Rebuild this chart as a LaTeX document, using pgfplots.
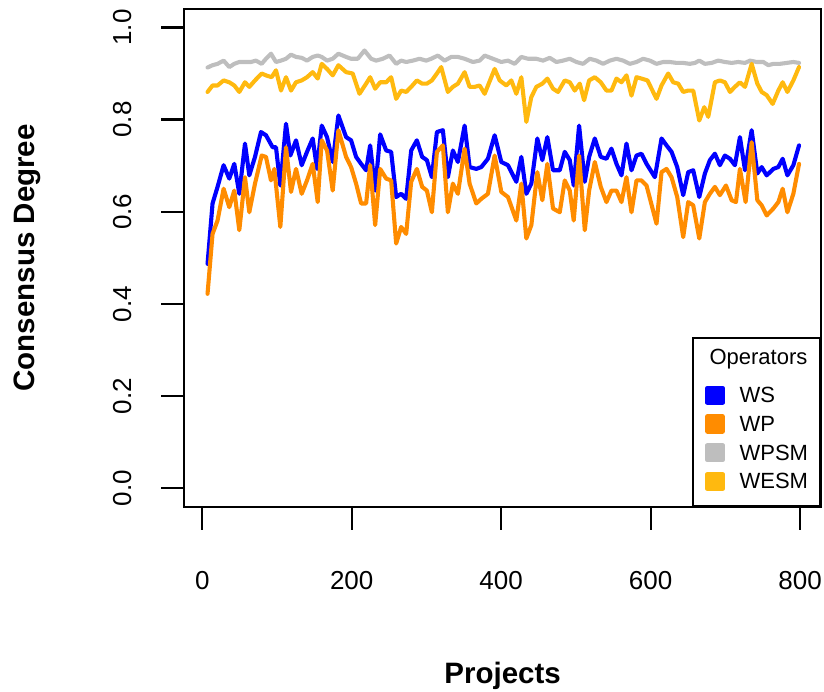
\documentclass[border=0pt]{standalone}
\usepackage{fontspec}
\setmainfont{Liberation Sans}
\usepackage{pgfplots}
\pgfplotsset{compat=1.18}
\definecolor{wsblue}{RGB}{0,0,255}
\definecolor{wporange}{RGB}{255,140,0}
\definecolor{wpsmgray}{RGB}{190,190,190}
\definecolor{wesmgold}{RGB}{255,185,15}
% legend row strut: height 16bp, depth 11.7bp
\newcommand{\lrow}[1]{\rule[-11.7bp]{0pt}{27.7bp}#1}

\pgfplotstableread{
x y
7.1 0.487
13.8 0.618
20.5 0.654
28.6 0.701
36.2 0.672
42.9 0.704
49.6 0.639
57.2 0.748
63.0 0.679
70.6 0.719
78.6 0.773
85.3 0.766
94.2 0.740
98.7 0.740
104.5 0.657
112.1 0.791
117.9 0.722
125.5 0.755
133.1 0.701
140.2 0.730
147.8 0.759
153.6 0.693
159.9 0.787
167.0 0.762
174.6 0.708
182.2 0.809
192.5 0.762
199.2 0.755
205.9 0.719
212.6 0.704
219.3 0.690
224.7 0.744
231.4 0.646
238.1 0.768
246.1 0.733
252.8 0.730
259.5 0.632
266.2 0.639
272.9 0.628
279.6 0.733
287.2 0.755
294.3 0.719
300.6 0.712
307.3 0.675
314.0 0.773
322.0 0.777
328.7 0.675
335.4 0.733
342.1 0.708
351.1 0.787
357.8 0.697
366.7 0.693
373.4 0.697
382.3 0.715
391.3 0.766
400.2 0.708
409.1 0.701
420.3 0.665
427.0 0.719
433.7 0.639
440.4 0.661
448.4 0.759
455.1 0.712
461.8 0.762
469.4 0.690
478.4 0.690
485.1 0.730
491.8 0.712
497.1 0.657
504.3 0.787
511.9 0.665
517.7 0.719
525.3 0.759
533.3 0.719
540.9 0.715
547.6 0.737
554.3 0.704
561.0 0.679
567.7 0.748
574.4 0.690
581.1 0.722
587.8 0.726
594.5 0.704
605.7 0.675
614.6 0.759
621.3 0.744
628.0 0.730
635.6 0.697
643.6 0.636
650.3 0.686
657.0 0.690
665.1 0.632
672.6 0.683
679.3 0.712
686.0 0.726
692.7 0.701
699.4 0.722
706.2 0.715
712.8 0.701
719.5 0.762
726.3 0.690
735.2 0.777
742.8 0.683
748.6 0.697
755.3 0.679
764.2 0.693
770.9 0.697
776.7 0.715
783.0 0.679
791.0 0.701
798.6 0.744
}\ws

\pgfplotstableread{
x y
7.1 0.422
13.8 0.552
20.5 0.581
28.6 0.650
36.2 0.610
42.9 0.646
49.6 0.560
57.2 0.675
63.0 0.599
70.6 0.661
79.5 0.722
85.3 0.719
92.0 0.668
96.5 0.693
104.5 0.567
112.1 0.740
118.8 0.643
125.5 0.693
133.1 0.639
140.2 0.668
147.8 0.704
154.5 0.621
159.9 0.755
167.0 0.733
174.6 0.646
182.2 0.777
192.5 0.719
199.2 0.697
205.9 0.661
212.6 0.618
219.3 0.618
224.7 0.701
231.4 0.571
238.1 0.693
246.1 0.672
252.8 0.668
259.5 0.531
266.2 0.567
272.9 0.552
279.6 0.665
287.2 0.693
294.3 0.654
300.6 0.646
307.3 0.599
314.0 0.730
322.0 0.744
328.7 0.599
335.4 0.661
342.1 0.639
351.1 0.737
357.8 0.661
366.7 0.618
373.4 0.628
382.3 0.639
391.3 0.722
400.2 0.643
409.1 0.632
420.3 0.581
427.0 0.661
433.7 0.542
440.4 0.571
448.4 0.686
455.1 0.625
461.8 0.704
469.4 0.607
478.4 0.599
485.1 0.668
491.8 0.646
497.1 0.581
504.3 0.722
511.9 0.560
517.7 0.646
525.3 0.708
533.3 0.654
540.9 0.621
547.6 0.646
554.3 0.646
561.0 0.621
567.7 0.675
574.4 0.599
581.1 0.668
587.8 0.668
594.5 0.657
607.9 0.574
614.6 0.686
621.3 0.693
628.0 0.675
635.6 0.632
643.6 0.545
650.3 0.621
657.0 0.614
665.1 0.542
672.6 0.621
679.3 0.639
686.0 0.654
692.7 0.636
700.8 0.657
708.4 0.625
714.2 0.621
719.5 0.693
727.1 0.621
735.2 0.751
742.8 0.625
748.6 0.614
755.3 0.592
764.2 0.607
770.9 0.621
776.7 0.650
783.0 0.599
791.0 0.639
798.6 0.704
}\wp

\pgfplotstableread{
x y
7.1 0.913
13.8 0.918
20.5 0.921
28.6 0.928
36.2 0.914
42.9 0.921
49.6 0.925
57.2 0.925
65.2 0.925
71.9 0.928
79.5 0.921
85.3 0.932
92.0 0.943
98.7 0.925
105.4 0.928
112.1 0.932
118.8 0.941
125.5 0.936
133.1 0.934
140.2 0.928
147.8 0.936
154.5 0.939
159.9 0.936
167.0 0.928
174.6 0.932
182.2 0.943
192.5 0.936
199.2 0.932
208.1 0.932
217.1 0.950
226.0 0.932
232.7 0.928
241.6 0.932
250.6 0.939
259.5 0.921
266.2 0.928
272.9 0.925
281.8 0.928
290.8 0.932
299.7 0.928
306.4 0.932
315.3 0.939
324.3 0.928
333.2 0.936
342.1 0.936
351.1 0.932
362.2 0.925
371.2 0.928
377.9 0.939
389.0 0.932
400.2 0.925
409.1 0.928
418.1 0.921
427.0 0.936
435.9 0.932
447.1 0.932
456.0 0.928
465.0 0.934
473.9 0.925
482.8 0.928
491.8 0.932
500.7 0.925
509.6 0.921
518.6 0.932
527.5 0.928
536.4 0.921
545.4 0.928
554.3 0.932
563.2 0.928
572.2 0.921
581.1 0.925
590.0 0.932
599.0 0.928
607.9 0.921
616.8 0.925
625.7 0.925
634.7 0.923
643.6 0.923
652.5 0.921
659.3 0.923
665.1 0.928
672.6 0.921
681.6 0.923
690.5 0.928
699.4 0.925
708.4 0.923
717.3 0.925
726.3 0.923
733.0 0.928
741.9 0.925
750.8 0.925
757.5 0.918
764.2 0.921
773.1 0.921
782.1 0.923
791.0 0.925
798.6 0.923
}\wpsm

\pgfplotstableread{
x y
7.1 0.860
13.8 0.874
20.5 0.874
28.6 0.885
36.2 0.881
42.9 0.874
49.6 0.860
57.2 0.881
63.0 0.871
70.6 0.885
79.5 0.900
85.3 0.896
92.9 0.892
98.7 0.907
105.4 0.863
112.1 0.892
118.8 0.863
125.5 0.881
133.1 0.885
140.2 0.892
147.8 0.903
154.5 0.889
159.9 0.921
167.0 0.910
174.6 0.896
182.2 0.918
192.5 0.903
201.4 0.900
210.4 0.856
219.3 0.878
224.7 0.892
231.4 0.867
238.1 0.881
246.1 0.881
252.8 0.892
259.5 0.845
266.2 0.863
272.9 0.860
279.6 0.871
287.2 0.885
294.3 0.878
300.6 0.878
307.3 0.885
314.0 0.900
319.8 0.914
328.7 0.860
335.4 0.871
342.1 0.878
351.1 0.903
357.8 0.871
364.5 0.871
371.2 0.874
377.9 0.856
391.3 0.910
398.0 0.885
406.9 0.874
413.6 0.885
420.3 0.856
427.0 0.892
433.7 0.795
440.4 0.849
447.1 0.871
455.1 0.878
461.8 0.889
469.4 0.867
476.1 0.860
485.1 0.885
491.8 0.881
498.5 0.863
505.2 0.878
511.0 0.842
517.7 0.885
525.3 0.892
533.3 0.881
540.9 0.863
547.6 0.863
554.3 0.889
561.0 0.881
567.7 0.896
574.4 0.852
581.1 0.892
587.8 0.889
595.8 0.885
607.9 0.845
614.6 0.874
623.5 0.900
630.2 0.881
636.9 0.878
643.6 0.860
650.3 0.863
657.0 0.863
665.1 0.798
671.8 0.827
677.1 0.806
686.0 0.881
692.7 0.885
699.4 0.881
706.2 0.860
712.8 0.871
719.5 0.881
726.3 0.871
735.2 0.921
742.8 0.878
748.6 0.860
755.3 0.853
763.3 0.834
770.9 0.863
776.7 0.881
783.0 0.860
791.0 0.885
798.6 0.914
}\wesm

\begin{document}
\begin{tikzpicture}
\path[use as bounding box] (0,0) rectangle (824bp,692bp);
\begin{axis}[
  at={(184.3bp,185.3bp)}, anchor=south west,
  scale only axis, width=636.7bp, height=497.7bp,
  xmin=-24, xmax=828, ymin=-0.04, ymax=1.04,
  xtick={0,200,400,600,800}, ytick={0,0.2,0.4,0.6,0.8,1},
  tick pos=left, tick align=outside, major tick length=23bp,
  axis line style={line width=2.2bp},
  tick style={line width=2.2bp, black},
  /pgf/number format/assume math mode=true,
  tick label style={font=\fontsize{26bp}{30bp}\selectfont},
  xticklabel style={anchor=north, inner sep=0pt, yshift=-41.3bp},
  yticklabel style={xshift=-29.8bp, rotate=90, anchor=south, inner sep=0pt,
    /pgf/number format/.cd, fixed, fixed zerofill, precision=1},
  xlabel={Projects}, ylabel={Consensus Degree},
  xlabel style={at={(axis description cs:0.5,-0.3548)}, anchor=base,
    font=\fontsize{29.5bp}{34bp}\selectfont\bfseries},
  ylabel style={at={(axis description cs:-0.2345,0.5)}, anchor=base,
    font=\fontsize{29.5bp}{34bp}\selectfont\bfseries},
  legend style={at={(1,0)}, anchor=south east, draw=black, line width=2bp,
    fill=white, inner xsep=12bp, inner ysep=0pt,
    font=\fontsize{22bp}{26bp}\selectfont,
    cells={anchor=base west}, nodes={inner sep=0pt, text depth={}},
    row sep=0pt, /tikz/every odd column/.append style={column sep=15bp}},
  legend image code/.code={\fill[#1] (0bp,0bp) rectangle (15bp,15bp);},
  every axis plot/.append style={line width=4.1bp, line join=round, line cap=round},
]
\addlegendimage{empty legend}
\addlegendentry{\rule[-21bp]{0pt}{47.3bp}\hspace{-30bp}Operators}
\addplot[color=wsblue] table {\ws};
\addlegendentry{\lrow{WS}}
\addplot[color=wporange] table {\wp};
\addlegendentry{\lrow{WP}}
\addplot[color=wpsmgray] table {\wpsm};
\addlegendentry{\lrow{WPSM}}
\addplot[color=wesmgold] table {\wesm};
\addlegendentry{\rule[-16.7bp]{0pt}{32.7bp}WESM}
\end{axis}
\end{tikzpicture}
\end{document}
